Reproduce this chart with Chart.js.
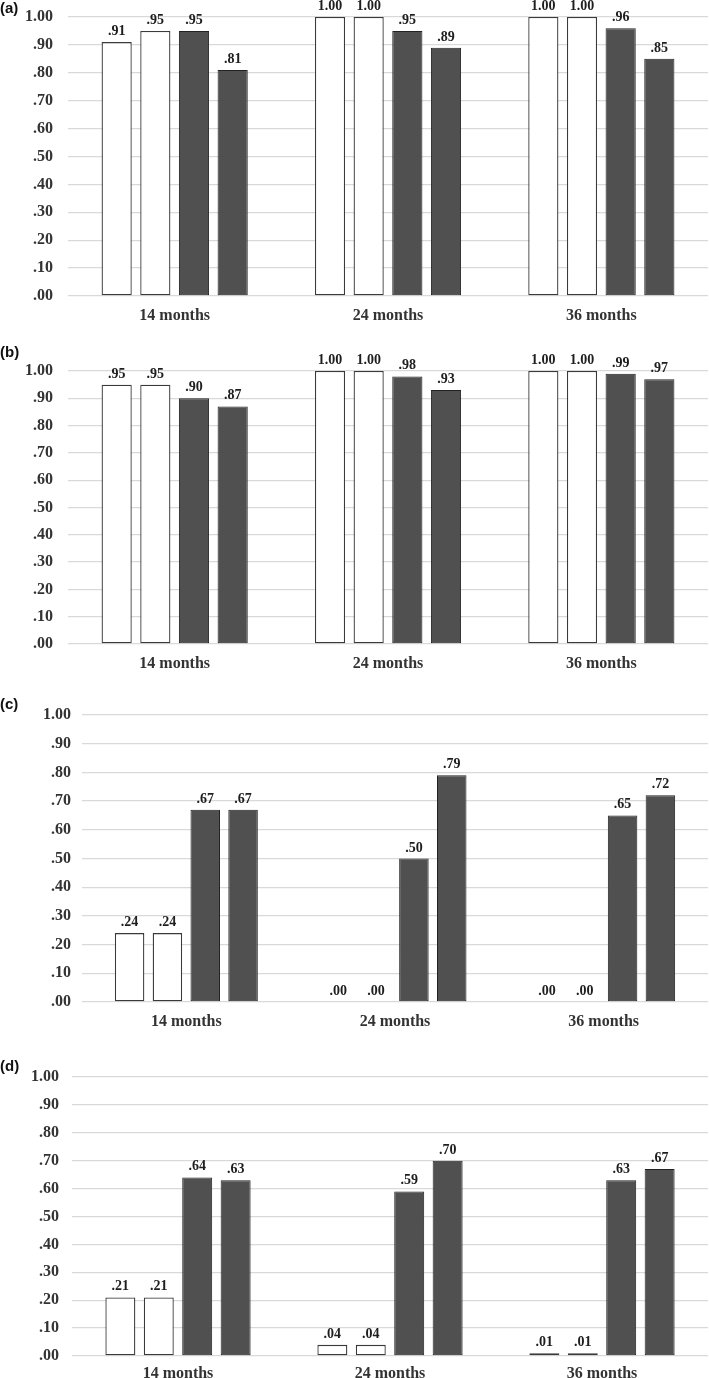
<!DOCTYPE html>
<html>
<head>
<meta charset="utf-8">
<script src="https://cdn.jsdelivr.net/npm/chart.js@4/dist/chart.umd.min.js"></script>
<style>
html, body {margin: 0; padding: 0; background: #fff; overflow: hidden;}
body {width: 709px; height: 1378px; position: relative;}
.panel {position: absolute; left: 0; width: 709px;}
.panel canvas {display: block;}
.tag {position: absolute; left: 0; font: bold 15px "Liberation Sans", Arial, sans-serif; color: #111; line-height: 16px;}
</style>
</head>
<body>
<div class="panel" style="top:0"><canvas id="chartA" width="709" height="330"></canvas></div>
<div class="panel" style="top:354px"><canvas id="chartB" width="709" height="324"></canvas></div>
<div class="panel" style="top:698px"><canvas id="chartC" width="709" height="338"></canvas></div>
<div class="panel" style="top:1060px"><canvas id="chartD" width="709" height="318"></canvas></div>
<div class="tag" style="top:0px">(a)</div>
<div class="tag" style="top:344px">(b)</div>
<div class="tag" style="top:696px">(c)</div>
<div class="tag" style="top:1058px">(d)</div>
<script>
const CATS = ["14 months", "24 months", "36 months"];

// (a)
const A_W1 = [.91, 1.00, 1.00];
const A_W2 = [.95, 1.00, 1.00];
const A_D1 = [.95, .95, .96];
const A_D2 = [.81, .89, .85];
// (b)
const B_W1 = [.95, 1.00, 1.00];
const B_W2 = [.95, 1.00, 1.00];
const B_D1 = [.90, .98, .99];
const B_D2 = [.87, .93, .97];
// (c)
const C_W1 = [.24, .00, .00];
const C_W2 = [.24, .00, .00];
const C_D1 = [.67, .50, .65];
const C_D2 = [.67, .79, .72];
// (d)
const D_W1 = [.21, .04, .01];
const D_W2 = [.21, .04, .01];
const D_D1 = [.64, .59, .63];
const D_D2 = [.63, .70, .67];

const Y_MIN = 0, Y_MAX = 1, Y_STEP = .1;

const DARK = "#505050", DARK_EDGE = "#222", WHITE_EDGE = "#3a3a3a";
const GRID = "#d9d9d9", TEXT = "#333";
const SERIF = "'Liberation Serif', 'Times New Roman', serif";

const fmt = v => v >= 1 ? v.toFixed(2) : v.toFixed(2).replace(/^0/, "");

const valueLabels = {
    id: "valueLabels",
    afterDatasetsDraw(chart) {
        const ctx = chart.ctx;
        ctx.save();
        ctx.font = "bold 14px " + SERIF;
        ctx.fillStyle = "#1e1e1e";
        ctx.textAlign = "center";
        ctx.textBaseline = "alphabetic";
        chart.data.datasets.forEach((ds, i) => {
            chart.getDatasetMeta(i).data.forEach((bar, j) => {
                ctx.fillText(fmt(ds.data[j]), bar.x, bar.y - 7);
            });
        });
        ctx.restore();
    }
};

const bars = (data, dark) => ({
    data: data,
    backgroundColor: dark ? DARK : "#fff",
    borderColor: dark ? DARK_EDGE : WHITE_EDGE,
    borderWidth: dark ? 1 : 1.3,
    borderSkipped: false,
    categoryPercentage: .725,
    barPercentage: .78,
});

function panel(id, series, axisW, tickPad, xH, xPad) {
    new Chart(document.getElementById(id), {
        type: "bar",
        data: {
            labels: CATS,
            datasets: [
                bars(series[0], false),
                bars(series[1], false),
                bars(series[2], true),
                bars(series[3], true),
            ],
        },
        options: {
            responsive: false,
            animation: false,
            layout: {padding: {top: 17, right: 1, left: 0, bottom: 0}},
            plugins: {legend: {display: false}, tooltip: {enabled: false}},
            scales: {
                x: {
                    grid: {display: false},
                    border: {display: false},
                    ticks: {color: TEXT, padding: xPad, font: {family: SERIF, size: 16, weight: "bold"}},
                    afterFit: s => { s.height = xH; },
                },
                y: {
                    min: Y_MIN,
                    max: Y_MAX,
                    grid: {color: GRID, lineWidth: 1.3, drawTicks: false},
                    border: {display: false},
                    ticks: {
                        stepSize: Y_STEP,
                        padding: tickPad,
                        color: TEXT,
                        font: {family: SERIF, size: 16, weight: "bold"},
                        callback: v => fmt(v),
                    },
                    afterFit: s => {
                        s.width = axisW;
                        s.paddingTop = 0;
                        s.paddingBottom = 0;
                    },
                },
            },
        },
        plugins: [valueLabels],
    });
}

panel("chartA", [A_W1, A_W2, A_D1, A_D2], 68, 15, 34, 2);
panel("chartB", [B_W1, B_W2, B_D1, B_D2], 68, 15, 34, 2);
panel("chartC", [C_W1, C_W2, C_D1, C_D2], 82, 11, 34, 2);
panel("chartD", [D_W1, D_W2, D_D1, D_D2], 72, 13, 22, 0);
</script>
</body>
</html>
